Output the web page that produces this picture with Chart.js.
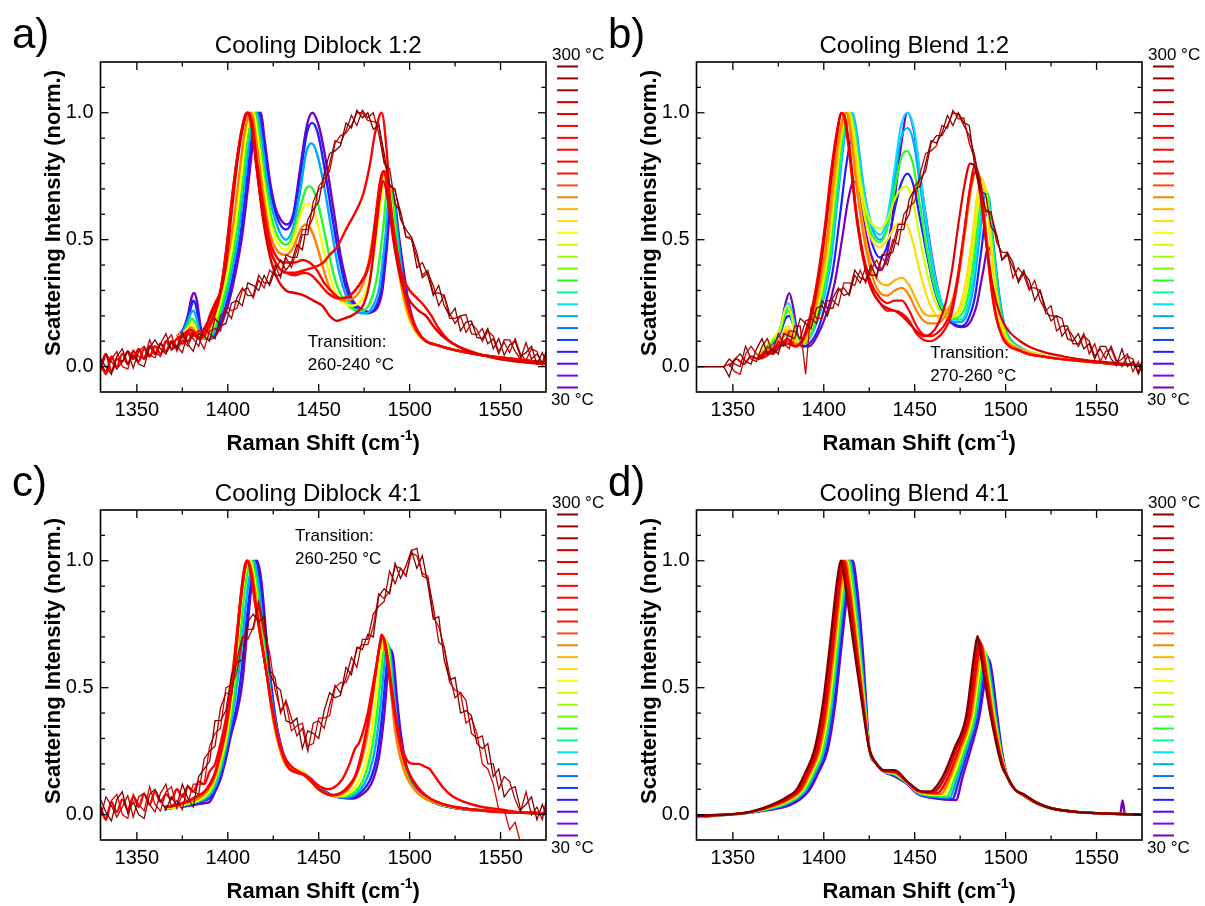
<!DOCTYPE html>
<html>
<head>
<title>Cooling Raman spectra</title>
<style>
  body, html { margin: 0; background: #fff; }
  #page { position: relative; width: 1205px; height: 906px; overflow: hidden; background: #fff; }
  canvas { position: absolute; }
</style>
</head>
<body>
<div id="page">
  <canvas id="pa" width="605" height="460" style="left:0;top:0"></canvas>
  <canvas id="pb" width="605" height="460" style="left:596px;top:0"></canvas>
  <canvas id="pc" width="605" height="458" style="left:0;top:448px"></canvas>
  <canvas id="pd" width="605" height="458" style="left:596px;top:448px"></canvas>
</div>
<script src="https://cdn.jsdelivr.net/npm/chart.js"></script>
<script>
// ---- axes / key ----
const xMajorTicks = [1350, 1400, 1450, 1500, 1550];
const xMinorTicks = [1375, 1425, 1475, 1525];
const yMajorTicks = [0, 0.5, 1.0];
const yMinorTicks = [0.1, 0.2, 0.3, 0.4, 0.6, 0.7, 0.8, 0.9, 1.1];
const tempList = [30, 40, 50, 60, 70, 80, 90, 100, 110, 120, 130, 140, 150, 160, 170, 180, 190, 200, 210, 220, 230, 240, 250, 260, 270, 280, 290, 300];
const tempColors = ['#7400c0', '#8000f0', '#5a00ff', '#2020ff', '#0040ff', '#0078ff', '#00a8ff', '#00e0ff', '#00ff90', '#20ff20',
  '#70ff00', '#a0ff00', '#d0ff00', '#ffff00', '#ffe000', '#ffb000', '#ff8000', '#ff5000', '#ff1000', '#ff0000',
  '#ff0000', '#ff0000', '#ff0000', '#e00000', '#c80000', '#b00000', '#a00000', '#800000'];
const keyTop = '300 °C', keyBottom = '30 °C';
const xTitle = ['Raman Shift (cm', '-1', ')'];
const yTitle = 'Scattering Intensity (norm.)';

// shared Raman shift grid of the noisy (molten) spectra
const meltX = [1330, 1333, 1336, 1339, 1342, 1345, 1348, 1351, 1354, 1357,
  1360, 1363, 1366, 1369, 1372, 1375, 1378, 1381, 1384, 1387,
  1390, 1393, 1396, 1399, 1402, 1405, 1408, 1411, 1414, 1417,
  1420, 1423, 1426, 1429, 1432, 1435, 1438, 1441, 1444, 1447,
  1450, 1453, 1456, 1459, 1462, 1465, 1468, 1471, 1474, 1477,
  1480, 1483, 1486, 1489, 1492, 1495, 1498, 1501, 1504, 1507,
  1510, 1513, 1516, 1519, 1522, 1525, 1528, 1531, 1534, 1537,
  1540, 1543, 1546, 1549, 1552, 1555, 1558, 1561, 1564, 1567,
  1570, 1573, 1575];

// ---- a) Cooling Diblock 1:2 ----
const a300 = [.03,0,-.03,.04,.07,.01,.045,.01,0,.075, .105,.07,.05,.095,.07,.135,.09,.06,.13,.12,
  .1,.19,.16,.17,.25,.26,.24,.33,.32,.3, .36,.32,.38,.42,.38,.41,.48,.46,.58,.62,
  .65,.76,.84,.85,.87,.96,.94,1.01,.98,1, .935,.95,.84,.71,.7,.58,.54,.51,.39,.41,
  .36,.28,.32,.24,.2,.23,.14,.175,.18,.115, .11,.15,.07,.11,.045,.085,.1,.04,.055,.08, .01,.055,.02];
const a290 = [-.02,.05,.02,-.01,.02,.06,-.005,.06,.08,.045, .035,.09,.13,.065,.08,.055,.13,.11,.08,.15,
  .13,.11,.2,.22,.19,.27,.31,.28,.28,.36, .33,.33,.4,.35,.44,.43,.43,.52,.52,.65,
  .7,.71,.8,.89,.88,.93,.99,.95,1.01,.98, 1,.92,.8,.78,.64,.61,.51,.51,.45,.35,
  .37,.32,.24,.28,.21,.17,.2,.205,.13,.125, .15,.09,.11,.05,.105,.105,.06,.03,.095,.03, .05,.015,.06];
const a270 = [.01,-.02,.03,.06,0,-.01,.065,.04,.03,.105, .055,.04,.1,.125,.06,.105,.08,.13,.11,.07,
  .14,.15,.14,.24,.22,.23,.3,.31,.27,.34, .31,.38,.36,.36,.43,.39,.46,.54,.54,.59,
  .71,.74,.77,.88,.91,.92,.95,1,1,.97, .965,.96,.81,.72,.69,.61,.51,.5,.43,.36,
  .38,.29,.29,.28,.19,.19,.2,.135,.17,.145, .1,.14,.12,.06,.095,.055,.11,.05,.025,.07, .06,.005,.04];
const a260 = [[1330,0],[1333,.05],[1336,-.02],[1339,.03],[1342,.02],[1345,.06],[1348,.03],[1351,.07],[1354,.03],[1357,.08],
  [1360,.05],[1363,.09],[1366,.06],[1369,.1],[1372,.08],[1375,.12],[1378,.1],[1381,.13],[1384,.11],[1387,.15],
  [1390,.19],[1393,.24],[1396,.29],[1399,.4],[1402,.6],[1405.5,.82],[1409,.97],[1411,1],[1413,.95],[1416,.78],
  [1419,.6],[1423,.44],[1427,.35],[1432,.3],[1437,.29],[1442,.28],[1447,.26],[1452,.24],[1456,.2],[1460,.18],
  [1464,.19],[1468,.2],[1472,.22],[1475,.25],[1478,.33],[1481,.5],[1483.5,.66],[1485.5,.73],[1488,.66],[1491,.5],
  [1494,.38],[1497,.3],[1501,.25],[1505,.22],[1509,.2],[1513,.16],[1518,.12],[1524,.09],[1532,.06],[1540,.045],
  [1550,.03],[1560,.02],[1568,.015],[1575,.01]];
const a250 = [[1330,.02],[1333,-.03],[1336,.04],[1339,0],[1342,.05],[1345,.01],[1348,.06],[1351,.02],[1354,.07],[1357,.04],
  [1360,.08],[1363,.05],[1366,.1],[1369,.07],[1372,.11],[1375,.09],[1378,.13],[1381,.12],[1384,.14],[1387,.13],
  [1390,.2],[1393,.25],[1396,.3],[1399,.45],[1402,.65],[1405.5,.84],[1409,.97],[1411,1],[1413,.96],[1416,.8],
  [1419,.63],[1423,.47],[1427,.4],[1432,.37],[1437,.37],[1442,.38],[1447,.39],[1452.5,.41],[1456,.44],[1460,.47],
  [1465,.54],[1471,.62],[1474.5,.68],[1478,.79],[1481,.92],[1484.6,1],[1487.4,.85],[1489.2,.66],[1491.5,.5],[1494,.41],
  [1497,.34],[1500,.3],[1504,.27],[1508,.24],[1512,.2],[1516,.15],[1522,.1],[1530,.07],[1538,.05],[1546,.035],
  [1554,.025],[1562,.018],[1570,.012],[1575,.01]];
const a240 = [[1372,.11],[1375,.115],[1377,.125],[1379,.135],[1381,.13],[1383,.115],[1385,.11],[1388,.135],[1392,.19],[1396,.29],
  [1399.5,.48],[1403,.7],[1406.5,.89],[1409.5,.99],[1411,1],[1413,.96],[1415.5,.8],[1418.5,.64],[1422.5,.48],[1427,.4],
  [1432,.37],[1437,.36],[1442,.37],[1446,.36],[1450,.33],[1455,.29],[1460,.27],[1464,.27],[1468,.285],[1472,.32],
  [1476,.37],[1479,.45],[1482,.62],[1484.5,.75],[1486,.77],[1488.5,.69],[1491.5,.53],[1495,.38],[1498,.27],[1501.5,.19],
  [1504.5,.14],[1509,.1],[1515,.085],[1525,.065],[1540,.045],[1557,.03],[1575,.015]];
const a220 = [[1372,.115],[1375,.12],[1377,.135],[1379,.145],[1381,.14],[1383,.12],[1385,.115],[1388,.14],[1392,.2],[1396,.3],
  [1400,.5],[1403.5,.72],[1407,.9],[1410,.99],[1411.5,1],[1413.5,.96],[1416,.81],[1419,.66],[1423,.5],[1427,.43],
  [1432,.41],[1437,.41],[1441,.42],[1445,.41],[1449,.38],[1453,.33],[1458,.29],[1462,.27],[1466,.275],[1470,.3],
  [1474,.34],[1478,.41],[1481,.57],[1483.5,.72],[1485.5,.77],[1488,.7],[1491,.54],[1494.5,.39],[1497.5,.28],[1501,.19],
  [1504,.14],[1509,.1],[1515,.085],[1525,.065],[1540,.045],[1557,.03],[1575,.015]];
const a190 = [[1372,.12],[1375,.13],[1378,.14],[1379.5,.155],[1381,.15],[1383,.125],[1385.5,.115],[1388,.125],[1391,.17],[1395,.27],
  [1399,.39],[1403,.56],[1406,.74],[1409,.91],[1411.5,.99],[1413,1],[1415.5,.9],[1419,.71],[1423,.53],[1432,.44],
  [1436,.47],[1440,.54],[1443,.56],[1445,.55],[1448,.5],[1452,.4],[1456,.31],[1460,.27],[1464,.26],[1468,.265],
  [1472,.29],[1476,.36],[1480,.52],[1483.5,.7],[1486,.76],[1488,.71],[1490.5,.55],[1493.5,.4],[1496.5,.28],[1500,.19],
  [1503.5,.14],[1509,.1],[1515,.085],[1525,.065],[1540,.045],[1557,.03],[1575,.015]];
const a160 = [[1372,.12],[1375,.13],[1378,.15],[1380,.17],[1381.5,.165],[1383.5,.13],[1386,.115],[1389,.12],[1392,.16],[1396,.26],
  [1400,.38],[1404,.55],[1407,.73],[1410,.91],[1412.5,.99],[1414,1],[1416.5,.9],[1420,.71],[1424,.55],[1432,.46],
  [1436,.5],[1440,.6],[1443,.64],[1445,.64],[1448,.6],[1452,.48],[1456,.36],[1460,.28],[1464,.25],[1468,.24],
  [1471,.245],[1475,.28],[1479,.38],[1483,.58],[1486.5,.74],[1488.5,.72],[1490.5,.6],[1493,.43],[1496,.29],[1499,.2],
  [1503,.14],[1509,.1],[1515,.085],[1525,.065],[1540,.045],[1557,.03],[1575,.015]];
const a120 = [[1372,.12],[1375,.13],[1378,.16],[1380,.19],[1381.5,.18],[1383.5,.14],[1386,.115],[1389,.115],[1392,.14],[1397,.25],
  [1401,.37],[1405,.54],[1408,.72],[1411,.9],[1413.5,.99],[1415,1],[1417.5,.9],[1421,.71],[1425,.56],[1432,.48],
  [1436,.52],[1440,.63],[1443,.7],[1445,.71],[1448,.68],[1452,.57],[1456,.43],[1460,.32],[1464,.26],[1468,.23],
  [1471,.222],[1474,.22],[1478,.25],[1482,.35],[1485.5,.55],[1488,.71],[1490,.7],[1492,.57],[1494.5,.4],[1497,.28],
  [1500,.19],[1503.5,.135],[1509,.1],[1515,.085],[1525,.065],[1540,.045],[1557,.03],[1575,.015]];
const a90 = [[1372,.12],[1375,.135],[1378,.18],[1380,.215],[1381,.22],[1382.5,.2],[1384.5,.14],[1387,.11],[1390,.11],[1393,.14],
  [1398,.25],[1402,.37],[1406,.53],[1409,.71],[1412,.9],[1414.5,.99],[1416,1],[1418.5,.9],[1422,.71],[1426,.58],
  [1432,.5],[1436,.55],[1440,.7],[1443,.84],[1446,.88],[1449,.84],[1453,.71],[1457,.54],[1461,.38],[1465,.28],
  [1469,.23],[1472,.212],[1476,.21],[1480,.24],[1483.5,.32],[1486.5,.5],[1489,.69],[1491,.68],[1493,.55],[1495.5,.39],
  [1498,.27],[1501,.18],[1504,.13],[1509,.1],[1515,.085],[1525,.065],[1540,.045],[1557,.03],[1575,.015]];
const a60 = [[1372,.12],[1375,.14],[1378,.19],[1380,.24],[1381,.26],[1382.5,.24],[1384.5,.16],[1387,.115],[1390,.11],[1393,.13],
  [1399,.24],[1403,.36],[1407,.52],[1410,.7],[1413,.89],[1415.5,.99],[1417,1],[1419.5,.9],[1423,.71],[1427,.59],
  [1432,.54],[1436,.59],[1440,.76],[1443.5,.92],[1446.3,.96],[1449.5,.92],[1453,.79],[1457,.61],[1461,.44],[1465,.31],
  [1469,.245],[1473,.215],[1477,.21],[1481,.23],[1484.5,.31],[1487,.48],[1489.5,.67],[1491.5,.66],[1493.5,.53],[1496,.39],
  [1498.5,.27],[1501.5,.18],[1504.5,.13],[1509,.1],[1515,.085],[1525,.065],[1540,.045],[1557,.03],[1575,.015]];
const a30 = [[1372,.12],[1375,.14],[1378,.2],[1380,.27],[1381.5,.29],[1383,.26],[1385,.16],[1387.5,.115],[1390,.11],[1394,.13],
  [1400,.24],[1404,.36],[1408,.52],[1411,.7],[1414,.89],[1416.5,.99],[1418,1],[1420.5,.88],[1423,.74],[1426,.63],
  [1429,.58],[1432.5,.56],[1436,.6],[1440,.79],[1443.5,.95],[1446.5,1],[1450,.95],[1453,.85],[1456,.72],[1459,.58],
  [1462,.44],[1465,.34],[1468,.27],[1471,.24],[1474,.225],[1478,.215],[1482,.23],[1485,.3],[1487.5,.47],[1490,.66],
  [1492,.64],[1494,.52],[1496.5,.39],[1499,.27],[1502,.18],[1505,.13],[1509,.1],[1515,.085],[1525,.065],[1540,.045],
  [1557,.03],[1575,.015]];

// ---- b) Cooling Blend 1:2 ----
const b300 = [0,0,0,0,0,0,-.04,.03,.05,.02, .01,.07,.11,.05,.07,.05,.13,.12,.11,.19,
  .17,.15,.23,.24,.2,.27,.31,.28,.29,.38, .35,.34,.4,.35,.44,.44,.45,.54,.54,.66,
  .7,.71,.8,.89,.88,.92,.99,.95,1,.96, .95,.79,.69,.68,.55,.52,.42,.45,.41,.33,
  .37,.34,.26,.3,.23,.18,.2,.19,.11,.1, .13,.07,.09,.03,.08,.08,.03,.005,.07,0, .02,-.02,.02];
const b290 = [0,0,0,0,0,0,.03,.01,0,.08, .03,.02,.08,.11,.05,.1,.08,.14,.14,.11,
  .18,.19,.17,.26,.23,.23,.3,.31,.28,.36, .33,.39,.36,.36,.43,.4,.48,.56,.56,.6,
  .71,.74,.77,.88,.91,.91,.95,1,.995,.95, .91,.83,.7,.62,.6,.52,.42,.44,.39,.34,
  .38,.31,.31,.3,.21,.2,.2,.12,.15,.12, .08,.12,.1,.04,.07,.03,.08,.025,0,.04, .03,-.03,0];
const b270 = [0,0,0,0,0,0,.01,-.02,-.03,.05, .08,.05,.03,.08,.06,.13,.09,.07,.16,.16,
  -.03,.23,.19,.19,.26,.26,.24,.33,.33,.32, .38,.33,.38,.42,.38,.42,.5,.48,.6,.63,
  .65,.76,.84,.85,.87,.95,.94,1.01,.975,.98, .88,.82,.73,.61,.61,.49,.45,.45,.35,.39,
  .36,.3,.34,.26,.22,.24,.14,.16,.16,.09, .09,.13,.05,.09,.02,.06,.07,.015,.03,.05, -.02,.02,-.02];
const b260 = [[1348,0],[1352,.03],[1356,.01],[1360,.04],[1364,.03],[1368,.06],[1372,.05],[1376,.08],[1380,.09],[1384,.08],
  [1388,.1],[1391,.15],[1394.5,.24],[1398,.38],[1401.5,.57],[1405,.79],[1408,.95],[1410,1],[1412,.97],[1414.5,.84],
  [1418,.6],[1422,.42],[1426.5,.3],[1431,.25],[1435,.23],[1439,.22],[1443,.2],[1447,.17],[1451,.14],[1455,.12],
  [1459,.13],[1463,.17],[1467,.25],[1470.5,.38],[1474,.56],[1477.5,.72],[1480.5,.8],[1483,.79],[1486,.68],[1489,.5],
  [1492,.35],[1495,.25],[1499,.17],[1503,.13],[1508,.1],[1514,.075],[1522,.055],[1532,.04],[1545,.025],[1560,.015],[1575,.005]];
const b240 = [[1364,.03],[1368,.04],[1372,.06],[1376,.08],[1378,.09],[1380,.1],[1382,.09],[1384.5,.08],[1387,.09],[1390,.14],
  [1393.5,.23],[1397,.37],[1400.5,.55],[1404,.77],[1407.5,.94],[1409.5,1],[1411.5,.97],[1414,.84],[1417.5,.61],[1421.5,.43],
  [1426,.31],[1431,.25],[1435,.22],[1439,.22],[1443,.21],[1447,.18],[1451,.13],[1455,.105],[1458.5,.1],[1462,.11],
  [1466,.14],[1470,.2],[1473.5,.33],[1477,.52],[1480.5,.71],[1483,.79],[1485.5,.74],[1488.5,.55],[1491.5,.34],[1494.5,.2],
  [1498,.12],[1502,.08],[1507,.065],[1512,.05],[1520,.04],[1530,.03],[1545,.02],[1560,.01],[1575,.005]];
const b220 = [[1364,.04],[1368,.05],[1372,.07],[1376,.09],[1378,.1],[1380,.11],[1382,.1],[1384.5,.08],[1387,.09],[1390,.13],
  [1393.5,.22],[1397,.35],[1400.5,.53],[1404,.75],[1407.5,.93],[1409.5,1],[1411.5,.98],[1414,.86],[1417.5,.63],[1421.5,.45],
  [1426,.33],[1431,.27],[1435,.25],[1439,.26],[1443,.26],[1447,.22],[1451,.16],[1455,.125],[1458.5,.12],[1462,.13],
  [1466,.16],[1470,.22],[1473.5,.35],[1477,.52],[1480.5,.7],[1483.5,.77],[1486,.72],[1489,.53],[1492,.33],[1495,.19],
  [1498.5,.11],[1502,.08],[1507,.065],[1512,.05],[1520,.04],[1530,.03],[1545,.02],[1560,.01],[1575,.005]];
const b190 = [[1364,.04],[1368,.06],[1372,.08],[1376,.1],[1378,.12],[1380,.135],[1382,.12],[1384.5,.09],[1387,.09],[1390,.12],
  [1394,.2],[1397.5,.32],[1401.5,.49],[1405,.72],[1408.5,.92],[1411,.99],[1412.5,1],[1415,.9],[1418.5,.68],[1422.5,.49],
  [1427,.35],[1431,.29],[1435,.28],[1439,.3],[1443,.31],[1447,.28],[1451,.22],[1455,.18],[1458.5,.17],[1462,.17],
  [1466,.19],[1470,.24],[1474,.35],[1477.5,.52],[1481,.7],[1484,.77],[1486.5,.72],[1489,.55],[1492,.35],[1495,.2],
  [1498.5,.12],[1502,.09],[1507,.07],[1512,.055],[1520,.04],[1530,.03],[1545,.02],[1560,.01],[1575,.005]];
const b180 = [[1364,.04],[1368,.06],[1372,.08],[1376,.11],[1378,.13],[1380,.145],[1382,.13],[1384.5,.09],[1387.5,.09],[1390.5,.12],
  [1394.5,.2],[1398,.31],[1402,.48],[1405.5,.71],[1409,.91],[1411.5,.99],[1413,1],[1415.5,.9],[1419,.68],[1423,.5],
  [1427,.38],[1431,.33],[1435,.32],[1439,.34],[1443,.35],[1447,.32],[1451,.26],[1455,.21],[1458.5,.2],[1462,.2],
  [1466,.21],[1470,.25],[1474,.36],[1477.5,.53],[1481,.71],[1484,.77],[1486.5,.72],[1489,.55],[1492,.35],[1495,.2],
  [1498.5,.12],[1502,.09],[1507,.07],[1512,.055],[1520,.04],[1530,.03],[1545,.02],[1560,.01],[1575,.005]];
const b170 = [[1364,.04],[1368,.06],[1372,.08],[1376,.11],[1378,.14],[1380,.16],[1382,.14],[1384.5,.1],[1387.5,.09],[1390.5,.11],
  [1394.5,.19],[1398,.3],[1402,.46],[1405.5,.69],[1409,.9],[1412,.99],[1413.5,1],[1416,.92],[1419.5,.72],[1423.5,.56],
  [1430.5,.47],[1435,.5],[1439,.55],[1442.5,.565],[1445.5,.56],[1449,.49],[1453,.37],[1457,.27],[1461,.21],[1465,.19],
  [1468.5,.19],[1472,.2],[1475,.24],[1478,.33],[1481.5,.5],[1484.5,.68],[1487,.74],[1489,.69],[1491.5,.5],[1494.5,.29],
  [1497.5,.17],[1500.5,.11],[1505,.08],[1512,.06],[1520,.045],[1530,.03],[1545,.02],[1560,.01],[1575,.005]];
const b150 = [[1364,.05],[1368,.08],[1372,.11],[1376,.15],[1378,.21],[1380,.24],[1382,.21],[1384.5,.12],[1387.5,.09],[1390.5,.11],
  [1394.5,.18],[1398.5,.29],[1402.5,.45],[1406,.68],[1409.5,.9],[1412.5,.99],[1414,1],[1416.5,.93],[1420,.74],[1424,.6],
  [1431,.545],[1435,.58],[1439,.66],[1442.5,.7],[1445.5,.71],[1449,.65],[1453,.5],[1457,.36],[1461,.26],[1465,.21],
  [1468.5,.2],[1472,.2],[1475,.22],[1478,.28],[1481.5,.44],[1485,.64],[1487.5,.72],[1489.5,.68],[1492,.5],[1495,.29],
  [1498,.17],[1501,.11],[1505.5,.08],[1512,.06],[1520,.045],[1530,.03],[1545,.02],[1560,.01],[1575,.005]];
const b120 = [[1364,.04],[1368,.07],[1372,.1],[1376,.14],[1378.5,.2],[1380.5,.22],[1382.5,.19],[1385,.11],[1388,.09],[1391,.1],
  [1395,.17],[1399,.28],[1403,.43],[1406.5,.66],[1410,.89],[1413,.99],[1414.5,1],[1417,.92],[1420.5,.72],[1424.5,.56],
  [1431,.49],[1435,.55],[1439,.7],[1442.5,.82],[1445.5,.85],[1449,.8],[1453,.63],[1457,.45],[1461,.31],[1465,.23],
  [1469,.2],[1472,.19],[1475,.2],[1478,.24],[1481.5,.37],[1485,.58],[1488,.7],[1490,.68],[1492.5,.5],[1495.5,.29],
  [1498.5,.17],[1501.5,.11],[1506,.08],[1512,.06],[1520,.045],[1530,.03],[1545,.02],[1560,.01],[1575,.005]];
const b100 = [[1364,.04],[1368,.07],[1372,.1],[1376,.15],[1378.5,.22],[1380.5,.25],[1382.5,.21],[1385,.12],[1388,.09],[1391,.1],
  [1395.5,.17],[1399.5,.27],[1403.5,.42],[1407,.65],[1410.5,.88],[1413.5,.99],[1415,1],[1417.5,.93],[1421,.74],[1425,.59],
  [1431,.52],[1435,.59],[1439,.78],[1442.5,.95],[1446,1],[1449.5,.94],[1453,.76],[1457,.54],[1461,.36],[1465,.25],
  [1469,.2],[1472,.185],[1475,.185],[1478,.21],[1482,.34],[1485.5,.55],[1488.5,.69],[1490.5,.67],[1493,.48],[1496,.28],
  [1499,.16],[1502,.11],[1506.5,.08],[1512,.06],[1520,.045],[1530,.03],[1545,.02],[1560,.01],[1575,.005]];
const b90 = [[1364,.04],[1368,.07],[1372,.1],[1376,.15],[1379,.22],[1381,.24],[1383,.2],[1385.5,.12],[1388,.09],[1391,.1],
  [1396,.17],[1400,.27],[1404,.42],[1407.5,.65],[1411,.88],[1414,.99],[1415.5,1],[1418,.93],[1421.5,.73],[1425.5,.57],
  [1431,.5],[1435,.56],[1439,.74],[1442.5,.9],[1446,.94],[1449.5,.88],[1453,.71],[1457,.51],[1461,.34],[1465,.24],
  [1469,.19],[1472,.175],[1475,.175],[1478.5,.2],[1482.5,.32],[1486,.53],[1489,.68],[1491,.66],[1493.5,.47],[1496.5,.28],
  [1499.5,.16],[1502.5,.11],[1507,.08],[1512,.06],[1520,.045],[1530,.03],[1545,.02],[1560,.01],[1575,.005]];
const b60 = [[1364,.03],[1368,.06],[1372,.09],[1376,.13],[1379,.19],[1381,.2],[1383,.17],[1385.5,.11],[1388,.08],[1392,.09],
  [1397,.15],[1401,.25],[1405,.38],[1409,.6],[1412.5,.8],[1415.5,.9],[1418.5,.85],[1422,.66],[1426,.5],[1431,.43],
  [1435,.48],[1439,.62],[1442.5,.72],[1446,.76],[1449.5,.71],[1453,.58],[1457,.43],[1461,.3],[1465,.22],[1469,.18],
  [1472.5,.165],[1475.5,.16],[1479,.18],[1483,.27],[1486.5,.45],[1489.5,.6],[1491.5,.58],[1494,.43],[1497,.25],[1500,.14],
  [1503,.1],[1507,.08],[1512,.06],[1520,.045],[1530,.03],[1545,.02],[1560,.01],[1575,.005]];
const b30 = [[1364,.03],[1368,.06],[1372,.1],[1376,.15],[1379,.25],[1381,.29],[1383,.24],[1385.5,.13],[1388,.08],[1392,.08],
  [1397,.13],[1402,.22],[1406,.33],[1410,.5],[1413.5,.66],[1416.5,.73],[1419.5,.68],[1423,.53],[1427,.42],[1431,.38],
  [1435,.45],[1439,.66],[1442.5,.87],[1446,1],[1449.5,.93],[1453,.75],[1457,.55],[1461,.37],[1465,.24],[1469,.18],
  [1472.5,.16],[1476,.155],[1480,.17],[1484,.24],[1487.5,.37],[1490.5,.47],[1493,.42],[1496,.26],[1499,.15],[1502,.1],
  [1506,.08],[1512,.06],[1520,.045],[1530,.03],[1545,.02],[1560,.01],[1575,.005]];

// ---- c) Cooling Diblock 4:1 ----
const c300 = [.06,.01,-.025,.06,.09,.005,.05,0,-.015,.08, .1,.055,.02,.07,.035,.12,.065,.03,.15,.18,
  .21,.37,.37,.41,.55,.6,.61,.76,.79,.76, .78,.56,.51,.49,.37,.36,.38,.26,.33,.32,
  .3,.41,.48,.46,.47,.58,.55,.66,.65,.71, .7,.86,.89,.87,.99,.93,.98,1.04,.97,1.02,
  .91,.77,.78,.61,.53,.54,.4,.41,.39,.28, .26,.28,.15,.18,.07,.1,.11,.02,.04,.07, -.02,.04,0];
const c280 = [-.01,.07,.035,-.01,.03,.075,-.01,.07,.085,.04, .01,.085,.12,.03,.055,.02,.115,.09,.08,.22,
  .25,.27,.42,.48,.47,.61,.7,.69,.74,.84, .74,.57,.54,.4,.45,.38,.31,.34,.25,.36,
  .37,.34,.43,.51,.48,.54,.62,.58,.69,.69, .79,.82,.84,.96,.91,.97,.94,1.04,1.05,.94,
  .93,.82,.68,.66,.55,.46,.48,.45,.32,.3, .31,.2,.2,.1,.15,.13,.06,.01,.09,0, .03,-.02,.05];
const c260 = [.03,-.02,.055,.08,0,-.015,.08,.04,.015,.11, .04,.015,.09,.11,.025,.08,.045,.12,.12,.12,
  .27,.32,.34,.5,.51,.56,.69,.73,.73,.82, .71,.64,.49,.41,.44,.33,.35,.36,.27,.28,
  .38,.38,.39,.5,.52,.52,.57,.65,.67,.67, .74,.87,.85,.88,.98,.97,.94,1.03,1.02,.95,
  .94,.78,.74,.66,.52,.49,.48,.36,.38,.32, .2,.18,.12,.02,.02,-.06,-.03,-.11,-.15,-.1, -.12,-.15,-.12];
const c250 = [[1330,.03],[1333,-.02],[1336,.05],[1339,.01],[1342,.06],[1345,.02],[1348,.07],[1351,.03],[1354,.08],[1357,.04],
  [1360,.09],[1363,.05],[1366,.08],[1369,.06],[1372,.1],[1375,.07],[1378,.11],[1381,.09],[1384,.13],[1387,.12],
  [1390,.17],[1393,.2],[1396,.28],[1399,.38],[1402,.52],[1404.5,.68],[1407,.85],[1409.5,.97],[1411,1],[1413,.95],
  [1415.5,.82],[1418.5,.68],[1421.5,.55],[1424.5,.42],[1427.5,.31],[1431,.23],[1435,.19],[1439,.17],[1443,.155],[1447,.13],
  [1451,.11],[1455,.1],[1459,.11],[1463,.14],[1467,.2],[1470,.26],[1472,.28],[1474.5,.33],[1477,.4],[1479.5,.5],
  [1482,.6],[1484,.68],[1485.5,.7],[1487.5,.64],[1490,.51],[1492.5,.38],[1495.5,.27],[1499,.21],[1502,.2],[1505,.2],
  [1508,.19],[1511,.18],[1514,.15],[1518,.11],[1523,.075],[1530,.05],[1540,.03],[1550,.02],[1560,.01],[1575,.005]];
const c240 = [[1365,.03],[1370,.035],[1375,.045],[1380,.06],[1384,.075],[1387,.09],[1390,.12],[1393,.165],[1396,.25],[1399,.35],
  [1402,.5],[1404.5,.66],[1407,.85],[1409,.97],[1410.5,1],[1412.5,.96],[1415,.83],[1418,.7],[1421,.57],[1424,.43],
  [1427,.32],[1430,.24],[1434,.18],[1438,.165],[1442,.155],[1446,.13],[1450,.1],[1454,.082],[1458,.076],[1462,.085],
  [1466,.11],[1470,.15],[1473,.21],[1476,.32],[1479,.44],[1481.5,.57],[1483.5,.67],[1484.6,.71],[1486.5,.66],[1489,.54],
  [1491,.43],[1494,.3],[1497,.21],[1500,.155],[1504,.11],[1509,.075],[1515,.05],[1525,.03],[1535,.02],[1550,.01],[1575,.005]];
const c220 = [[1365,.03],[1370,.035],[1375,.045],[1380,.06],[1384,.075],[1387,.09],[1390,.115],[1393,.16],[1396,.24],[1399,.34],
  [1402,.48],[1404.5,.64],[1407,.83],[1409.2,.96],[1410.8,1],[1412.8,.96],[1415.3,.83],[1418.3,.69],[1421.3,.56],[1424.3,.42],
  [1427.3,.31],[1430.5,.23],[1434,.18],[1438,.168],[1442,.158],[1446,.132],[1450,.102],[1454,.084],[1458,.077],[1462,.084],
  [1466,.105],[1470,.15],[1473.5,.24],[1476.5,.34],[1479,.45],[1481.5,.57],[1483.7,.67],[1485,.705],[1486.8,.66],[1489.3,.53],
  [1491.5,.42],[1494.3,.3],[1497.3,.21],[1500.3,.155],[1504.3,.11],[1509,.075],[1515,.05],[1525,.03],[1535,.02],[1550,.01],[1575,.005]];
const c190 = [[1365,.03],[1372,.035],[1378,.05],[1383,.06],[1387,.08],[1390,.105],[1393,.15],[1396,.23],[1399,.33],[1401.5,.46],
  [1403.5,.6],[1405.5,.74],[1407.5,.89],[1409.5,.98],[1411.3,1],[1413.5,.95],[1416,.83],[1419,.68],[1422,.52],[1425,.37],
  [1428.5,.26],[1432,.195],[1437,.172],[1441,.16],[1445,.135],[1449,.105],[1454,.082],[1459,.075],[1463,.082],[1467,.105],
  [1471,.16],[1475,.25],[1478,.37],[1481,.54],[1483.4,.66],[1485.4,.7],[1487.2,.65],[1489.5,.5],[1492,.33],[1495,.22],
  [1498,.155],[1502,.105],[1507,.07],[1514,.047],[1525,.029],[1540,.016],[1555,.01],[1575,.005]];
const c160 = [[1365,.025],[1372,.03],[1378,.045],[1383,.055],[1387,.07],[1390,.095],[1393,.14],[1396,.21],[1399,.3],[1401.5,.42],
  [1403.5,.55],[1405.5,.69],[1407.5,.85],[1410,.97],[1412.2,1],[1414.5,.93],[1417,.79],[1420,.63],[1423,.47],[1426,.34],
  [1429.5,.24],[1433,.19],[1438,.178],[1442,.165],[1446,.13],[1451,.094],[1456,.078],[1461,.073],[1465,.078],[1469,.1],
  [1473,.15],[1476,.21],[1479,.32],[1482,.5],[1484.3,.64],[1486.2,.695],[1488,.65],[1490.2,.48],[1492.8,.31],[1495.5,.21],
  [1498.5,.145],[1502.5,.1],[1507.5,.068],[1515,.045],[1525,.028],[1540,.016],[1555,.01],[1575,.005]];
const c120 = [[1365,.025],[1372,.03],[1378,.04],[1383,.05],[1387,.065],[1390,.085],[1393,.125],[1396,.19],[1399,.28],[1402,.4],
  [1404.5,.53],[1406.5,.67],[1408.5,.83],[1411,.96],[1413.2,1],[1415.5,.93],[1418,.78],[1421,.6],[1424,.44],[1427,.32],
  [1430.5,.22],[1434,.18],[1439,.175],[1443,.16],[1447,.125],[1452,.092],[1457,.075],[1462,.07],[1466,.075],[1470,.09],
  [1474,.13],[1477,.19],[1480,.29],[1483,.46],[1485.2,.62],[1487,.685],[1488.8,.64],[1490.8,.48],[1493.3,.31],[1496,.21],
  [1499,.145],[1503,.098],[1508,.066],[1515,.044],[1525,.028],[1540,.016],[1555,.01],[1575,.005]];
const c90 = [[1365,.02],[1372,.03],[1378,.04],[1383,.05],[1387,.06],[1390,.075],[1393,.11],[1396,.17],[1399,.26],[1402,.37],
  [1404.5,.48],[1407,.62],[1409.5,.8],[1412,.94],[1414.2,1],[1416.5,.93],[1419,.77],[1422,.58],[1425,.41],[1428,.3],
  [1432,.2],[1436,.172],[1440,.168],[1444,.15],[1448,.12],[1453,.09],[1458,.073],[1463,.068],[1467,.07],[1471,.085],
  [1475,.12],[1478,.17],[1481,.26],[1484,.43],[1486.2,.6],[1487.8,.675],[1489.5,.63],[1491.5,.48],[1494,.31],[1496.5,.21],
  [1499.5,.14],[1503.5,.095],[1508.5,.064],[1515,.043],[1525,.027],[1540,.016],[1555,.01],[1575,.005]];
const c60 = [[1365,.02],[1372,.03],[1378,.035],[1383,.045],[1387,.055],[1390,.065],[1393,.1],[1396,.16],[1399,.24],[1402,.34],
  [1405,.43],[1407.5,.56],[1410,.74],[1412.5,.9],[1415.2,1],[1417.5,.93],[1420,.77],[1423,.56],[1426,.39],[1429,.28],
  [1433,.195],[1437,.17],[1441,.165],[1445,.145],[1449,.115],[1454,.088],[1459,.072],[1464,.066],[1468,.066],[1472,.08],
  [1476,.11],[1479,.15],[1482,.23],[1485,.4],[1487,.56],[1488.5,.66],[1490,.63],[1492,.48],[1494.5,.31],[1497,.21],
  [1500,.14],[1504,.095],[1509,.063],[1515,.042],[1525,.027],[1540,.016],[1555,.01],[1575,.005]];
const c30 = [[1365,.02],[1372,.03],[1378,.035],[1383,.04],[1387,.045],[1390,.05],[1393,.09],[1396,.14],[1399,.22],[1402,.32],
  [1405,.4],[1408,.52],[1411,.75],[1413.5,.93],[1416,1],[1418.5,.92],[1421,.72],[1424,.5],[1427,.34],[1430,.25],
  [1434,.19],[1438,.165],[1442,.16],[1446,.14],[1450,.11],[1455,.085],[1460,.07],[1465,.064],[1469,.063],[1473,.075],
  [1477,.1],[1480,.14],[1483,.22],[1486,.39],[1488,.56],[1489.5,.65],[1491,.62],[1493,.46],[1495.5,.3],[1498,.2],
  [1501,.13],[1505,.09],[1510,.06],[1516,.04],[1525,.025],[1540,.015],[1555,.01],[1575,.005]];

// ---- d) Cooling Blend 4:1 ----
const d300 = [[1330,-.005],[1360,.012],[1375,.05],[1381,.075],[1384.8,.096],[1389.8,.165],[1394.8,.254],[1399.4,.43],[1403.1,.649],[1407.5,.93],
  [1409.5,1],[1411.5,.92],[1416.8,.649],[1421.4,.42],[1425,.26],[1429,.2],[1433,.175],[1439,.175],[1446,.13],[1452,.096],
  [1455,.09],[1458,.09],[1465.3,.148],[1471.8,.26],[1478.2,.385],[1483.1,.65],[1484.6,.704],[1486.1,.64],[1491.9,.385],[1498,.19],
  [1501,.148],[1505,.1],[1510,.08],[1517,.048],[1525,.025],[1540,.01],[1575,0]];
const d260 = [[1330,-.006],[1360,.011],[1375,.047],[1381,.07],[1385.8,.096],[1390.8,.165],[1395.8,.254],[1400.4,.43],[1404,.649],[1408.4,.93],
  [1410.4,1],[1412.4,.92],[1417.4,.649],[1421.7,.42],[1425,.26],[1429,.2],[1433,.173],[1439,.171],[1446,.129],[1452,.094],
  [1456,.09],[1460.2,.09],[1466.8,.148],[1473,.26],[1479.2,.385],[1484,.64],[1485.5,.69],[1487,.63],[1492.4,.385],[1498,.198],
  [1501,.148],[1505,.1],[1510,.077],[1517,.046],[1525,.025],[1540,.01],[1575,0]];
const d220 = [[1330,-.006],[1360,.011],[1375,.043],[1381,.064],[1386.8,.096],[1391.8,.165],[1396.8,.254],[1401.3,.43],[1404.9,.649],[1409.3,.93],
  [1411.3,1],[1413.3,.92],[1418.1,.649],[1422,.42],[1425,.26],[1429,.2],[1433,.172],[1439,.168],[1446,.127],[1452,.092],
  [1457,.087],[1462.3,.085],[1468.4,.148],[1474.3,.26],[1480.2,.385],[1484.9,.63],[1486.4,.677],[1487.9,.62],[1492.9,.385],[1498,.207],
  [1501,.148],[1505,.1],[1510,.076],[1517,.045],[1525,.025],[1540,.01],[1575,0]];
const d190 = [[1330,-.007],[1360,.01],[1375,.04],[1381,.06],[1387.7,.096],[1392.7,.165],[1397.7,.254],[1402.2,.43],[1405.7,.649],[1410.1,.93],
  [1412.1,1],[1414.1,.92],[1418.6,.649],[1422.3,.42],[1425,.26],[1429,.2],[1433,.17],[1439,.165],[1446,.126],[1452,.09],
  [1457.5,.083],[1464,.08],[1469.7,.148],[1475.4,.26],[1481.1,.385],[1485.7,.62],[1487.2,.666],[1488.7,.61],[1493.3,.385],[1498,.214],
  [1501,.148],[1505,.1],[1510,.075],[1517,.045],[1525,.025],[1540,.01],[1575,0]];
const d160 = [[1330,-.0075],[1360,.01],[1375,.038],[1381,.056],[1388.4,.096],[1393.5,.165],[1398.5,.254],[1402.9,.43],[1406.3,.649],[1410.7,.93],
  [1412.7,1],[1414.7,.92],[1419.1,.649],[1422.5,.42],[1425,.26],[1429,.2],[1433,.17],[1439,.163],[1446,.125],[1452,.089],
  [1458,.08],[1465.4,.077],[1470.8,.148],[1476.4,.26],[1481.9,.385],[1486.3,.61],[1487.8,.657],[1489.3,.6],[1493.7,.385],[1498,.22],
  [1501,.148],[1505,.1],[1510,.075],[1517,.045],[1525,.025],[1540,.01],[1575,0]];
const d120 = [[1330,-.008],[1360,.009],[1375,.034],[1381,.05],[1389.4,.096],[1394.5,.165],[1399.5,.254],[1403.8,.43],[1407.2,.649],[1411.6,.93],
  [1413.6,1],[1415.6,.92],[1419.7,.649],[1422.8,.42],[1425,.26],[1429,.2],[1433,.17],[1439,.159],[1446,.124],[1452,.086],
  [1459,.076],[1467.5,.071],[1472.3,.148],[1477.6,.26],[1482.9,.385],[1487.2,.6],[1488.7,.644],[1490.2,.59],[1494.2,.385],[1498,.228],
  [1501,.148],[1505,.1],[1510,.075],[1517,.045],[1525,.025],[1540,.01],[1575,0]];
const d90 = [[1330,-.009],[1360,.009],[1375,.031],[1381,.046],[1390.2,.096],[1395.3,.165],[1400.3,.254],[1404.5,.43],[1407.9,.649],[1412.3,.93],
  [1414.3,1],[1416.3,.92],[1420.3,.649],[1423,.42],[1425,.26],[1429,.2],[1433,.17],[1439,.156],[1446,.123],[1452,.084],
  [1460,.072],[1469.1,.067],[1473.5,.148],[1478.6,.26],[1483.7,.385],[1487.9,.59],[1489.4,.633],[1490.9,.58],[1494.6,.385],[1498,.235],
  [1501,.148],[1505,.1],[1510,.075],[1517,.045],[1525,.025],[1540,.01],[1575,0]];
const d60 = [[1330,-.009],[1360,.009],[1375,.029],[1381,.041],[1391,.096],[1396,.165],[1401.1,.254],[1405.3,.43],[1408.6,.649],[1413,.93],
  [1415,1],[1417,.92],[1420.8,.649],[1423.2,.42],[1425,.26],[1429,.2],[1433,.17],[1439,.154],[1446,.121],[1452,.082],
  [1460,.068],[1470.7,.062],[1474.8,.148],[1479.6,.26],[1484.5,.385],[1488.6,.58],[1490.1,.623],[1491.6,.57],[1495,.385],[1498,.24],
  [1501,.148],[1505,.1],[1510,.075],[1517,.045],[1525,.025],[1540,.01],[1575,0]];
const d30 = [[1330,-.01],[1360,.008],[1375,.025],[1381,.036],[1392,.096],[1397,.165],[1402.1,.254],[1406.2,.43],[1409.5,.649],[1413.9,.93],
  [1415.9,1],[1417.9,.92],[1421.4,.649],[1423.5,.42],[1425,.26],[1429,.2],[1433,.17],[1439,.15],[1446,.12],[1452,.08],
  [1460,.065],[1472.7,.057],[1476.3,.148],[1480.9,.26],[1485.5,.385],[1489.5,.567],[1491,.61],[1492.5,.56],[1495.5,.385],[1498,.25],
  [1501,.148],[1505,.1],[1510,.075],[1517,.045],[1525,.025],[1540,.01],[1563,.002],[1564.3,.056],[1565.6,.002],[1575,0]];

// curves per panel: [temperature, data], hottest first (drawn on top)
const meltA = [[300, a300], [290, a290], [270, a270]];
const curvesA = [[260, a260], [250, a250], [240, a240], [220, a220], [190, a190], [160, a160], [120, a120], [90, a90], [60, a60], [30, a30]];
const meltB = [[300, b300], [290, b290], [270, b270]];
const curvesB = [[260, b260], [240, b240], [220, b220], [190, b190], [180, b180], [170, b170], [150, b150], [120, b120], [100, b100], [90, b90], [60, b60], [30, b30]];
const meltC = [[300, c300], [280, c280], [260, c260]];
const curvesC = [[250, c250], [240, c240], [220, c220], [190, c190], [160, c160], [120, c120], [90, c90], [60, c60], [30, c30]];
const meltD = [];
const curvesD = [[300, d300], [260, d260], [220, d220], [190, d190], [160, d160], [120, d120], [90, d90], [60, d60], [30, d30]];

const noteA = { x: 1444, y: [0.097, 0.007], lines: ['Transition:', '260-240 °C'] };
const noteB = { x: 1458.5, y: [0.054, -0.037], lines: ['Transition:', '270-260 °C'] };
const noteC = { x: 1437, y: [1.096, 1.005], lines: ['Transition:', '260-250 °C'] };

const FONT = '"Liberation Sans", Arial, sans-serif';
Chart.defaults.font.family = FONT;
Chart.defaults.color = '#000';

function colorOf(t) { return tempColors[tempList.indexOf(t)]; }

function decor(p) {
  return {
    id: 'decor',
    afterDraw(chart) {
      const { ctx, chartArea: ca, scales } = chart;
      const xs = scales.x, ys = scales.y;
      const seg = (x1, y1, x2, y2) => { ctx.beginPath(); ctx.moveTo(x1, y1); ctx.lineTo(x2, y2); ctx.stroke(); };
      ctx.save();
      ctx.strokeStyle = '#000';
      ctx.lineWidth = 1.3;
      xMajorTicks.forEach(v => { const px = xs.getPixelForValue(v); seg(px, ca.bottom, px, ca.bottom - 8); seg(px, ca.top, px, ca.top + 8); });
      xMinorTicks.forEach(v => { const px = xs.getPixelForValue(v); seg(px, ca.bottom, px, ca.bottom - 4.5); seg(px, ca.top, px, ca.top + 4.5); });
      yMajorTicks.forEach(v => { const py = ys.getPixelForValue(v); seg(ca.left, py, ca.left + 8, py); seg(ca.right, py, ca.right - 8, py); });
      yMinorTicks.forEach(v => { const py = ys.getPixelForValue(v); seg(ca.left, py, ca.left + 4.5, py); seg(ca.right, py, ca.right - 4.5, py); });
      ctx.lineWidth = 1.6;
      ctx.strokeRect(ca.left, ca.top, ca.right - ca.left, ca.bottom - ca.top);

      // temperature key
      const n = tempList.length, k0 = ca.top + 4.5, k1 = ca.bottom - 4.5;
      ctx.lineWidth = 2;
      for (let i = 0; i < n; i++) {
        const yy = k0 + (k1 - k0) * i / (n - 1);
        ctx.strokeStyle = tempColors[n - 1 - i];
        seg(ca.right + 11, yy, ca.right + 32, yy);
      }
      ctx.fillStyle = '#000';
      ctx.textAlign = 'left';
      ctx.textBaseline = 'middle';
      ctx.font = '17px ' + FONT;
      ctx.fillText(keyTop, ca.right + 6, ca.top - 7);
      ctx.fillText(keyBottom, ca.right + 5, ca.bottom + 8);

      if (p.note) {
        p.note.lines.forEach((s, i) => ctx.fillText(s, xs.getPixelForValue(p.note.x), ys.getPixelForValue(p.note.y[i])));
      }

      ctx.font = '42px ' + FONT;
      ctx.fillText(p.letter, 12, 36);

      ctx.font = '24px ' + FONT;
      ctx.textAlign = 'center';
      ctx.fillText(p.title, (ca.left + ca.right) / 2 - 5, ca.top - 16);

      // x title with superscript
      ctx.textAlign = 'left';
      ctx.font = 'bold 22px ' + FONT;
      const w1 = ctx.measureText(xTitle[0]).width, w3 = ctx.measureText(xTitle[2]).width;
      ctx.font = 'bold 14px ' + FONT;
      const w2 = ctx.measureText(xTitle[1]).width;
      const sx = (ca.left + ca.right) / 2 - (w1 + w2 + w3) / 2, ty = ca.bottom + 52;
      ctx.font = 'bold 22px ' + FONT;
      ctx.fillText(xTitle[0], sx, ty);
      ctx.fillText(xTitle[2], sx + w1 + w2, ty);
      ctx.font = 'bold 14px ' + FONT;
      ctx.fillText(xTitle[1], sx + w1, ty - 8);

      // y title
      ctx.translate(53.5, ca.top + 151);
      ctx.rotate(-Math.PI / 2);
      ctx.textAlign = 'center';
      ctx.font = 'bold 22px ' + FONT;
      ctx.fillText(yTitle, 0, 0);
      ctx.restore();
    }
  };
}

function makePanel(p) {
  const sets = [];
  p.melt.forEach(([t, ys]) => sets.push({
    data: meltX.map((x, i) => [x, ys[i]]),
    borderColor: colorOf(t), borderWidth: 1.3, tension: 0
  }));
  p.curves.forEach(([t, pts]) => sets.push({
    data: pts,
    borderColor: colorOf(t), borderWidth: p.lw, cubicInterpolationMode: 'monotone'
  }));
  new Chart(document.getElementById(p.el), {
    type: 'line',
    data: { datasets: sets },
    options: {
      responsive: false,
      animation: false,
      devicePixelRatio: 1,
      layout: { padding: { left: 0, top: 62, right: 59, bottom: 0 } },
      elements: { point: { radius: 0 }, line: { fill: false } },
      plugins: { legend: { display: false }, tooltip: { enabled: false } },
      scales: {
        x: {
          type: 'linear', min: 1330, max: 1575,
          grid: { display: false, drawTicks: false }, border: { display: false },
          afterBuildTicks: s => { s.ticks = xMajorTicks.map(v => ({ value: v })); },
          afterFit: s => { s.height = p.axisH; },
          ticks: { font: { size: 20 }, color: '#000', padding: 6, maxRotation: 0, autoSkip: false, callback: v => String(v) }
        },
        y: {
          type: 'linear', min: -0.1, max: 1.2,
          grid: { display: false, drawTicks: false }, border: { display: false },
          afterBuildTicks: s => { s.ticks = yMajorTicks.map(v => ({ value: v })); },
          afterFit: s => { s.width = 100.5; },
          ticks: { font: { size: 20 }, color: '#000', padding: 7, callback: v => v.toFixed(1) }
        }
      }
    },
    plugins: [decor(p)]
  });
}

[
  { el: 'pa', letter: 'a)', title: 'Cooling Diblock 1:2', note: noteA, melt: meltA, curves: curvesA, axisH: 68, lw: 2.4 },
  { el: 'pb', letter: 'b)', title: 'Cooling Blend 1:2', note: noteB, melt: meltB, curves: curvesB, axisH: 68, lw: 2.2 },
  { el: 'pc', letter: 'c)', title: 'Cooling Diblock 4:1', note: noteC, melt: meltC, curves: curvesC, axisH: 66, lw: 2.4 },
  { el: 'pd', letter: 'd)', title: 'Cooling Blend 4:1', note: null, melt: meltD, curves: curvesD, axisH: 66, lw: 2.4 }
].forEach(makePanel);
</script>
</body>
</html>
